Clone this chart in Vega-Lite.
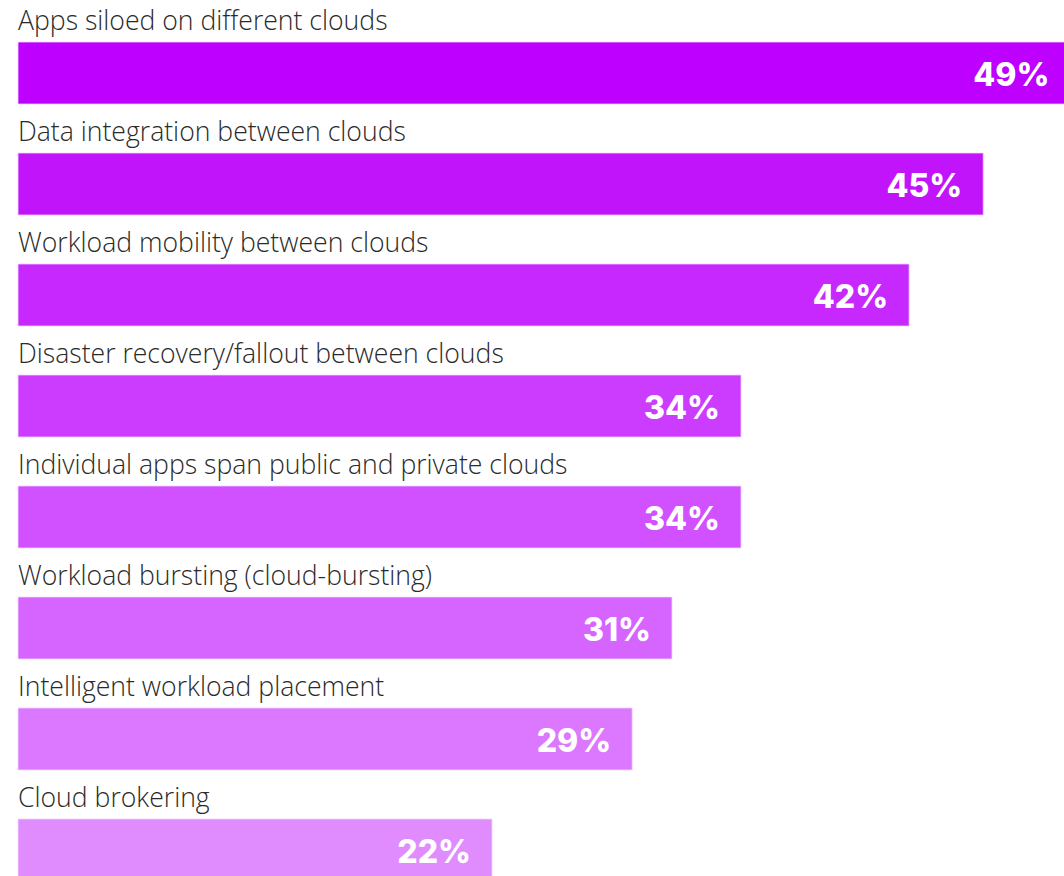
{
  "$schema": "https://vega.github.io/schema/vega-lite/v6.json",
  "autosize": "none",
  "width": 1046,
  "height": 876,
  "padding": {"left": 18, "top": 0, "right": 0, "bottom": 0},
  "background": "white",
  "config": {"view": {"stroke": null}},
  "data": {
    "values": [
      {"category": "Apps siloed on different clouds", "value": 0.494},
      {"category": "Data integration between clouds", "value": 0.4531},
      {"category": "Workload mobility between clouds", "value": 0.4183},
      {"category": "Disaster recovery/fallout between clouds", "value": 0.3394},
      {"category": "Individual apps span public and private clouds", "value": 0.3394},
      {"category": "Workload bursting (cloud-bursting)", "value": 0.307},
      {"category": "Intelligent workload placement", "value": 0.2883},
      {"category": "Cloud brokering", "value": 0.2225}
    ]
  },
  "encoding": {
    "y": {
      "field": "category",
      "type": "nominal",
      "sort": null,
      "axis": null,
      "scale": {"range": [42, 881], "paddingInner": 0.441, "paddingOuter": 0}
    }
  },
  "layer": [
    {
      "mark": {"type": "bar", "stroke": "#f4d8ff", "strokeWidth": 0.8, "clip": false},
      "encoding": {
        "x": {"field": "value", "type": "quantitative", "axis": null, "scale": {"domain": [0, 0.491], "nice": false, "zero": true}},
        "color": {
          "field": "category",
          "type": "nominal",
          "sort": null,
          "legend": null,
          "scale": {
            "domain": [
              "Apps siloed on different clouds",
              "Data integration between clouds",
              "Workload mobility between clouds",
              "Disaster recovery/fallout between clouds",
              "Individual apps span public and private clouds",
              "Workload bursting (cloud-bursting)",
              "Intelligent workload placement",
              "Cloud brokering"
            ],
            "range": ["#BD00FF", "#C214FB", "#C628FD", "#CC3CFF", "#D150FF", "#D664FF", "#DB78FF", "#E08CFF"]
          }
        }
      }
    },
    {
      "mark": {"type": "text", "align": "right", "baseline": "alphabetic", "dx": -21, "dy": 13, "font": "Inter", "fontWeight": 800, "fontSize": 32, "color": "white"},
      "encoding": {
        "x": {"field": "value", "type": "quantitative"},
        "text": {"field": "value", "type": "quantitative", "format": ".0%"}
      }
    },
    {
      "mark": {"type": "text", "align": "left", "baseline": "alphabetic", "dy": -12, "font": "Open Sans", "fontWeight": 300, "fontSize": 26.6, "color": "#2a2a2a"},
      "encoding": {
        "x": {"datum": 0, "type": "quantitative"},
        "y": {"field": "category", "type": "nominal", "sort": null, "bandPosition": 0},
        "text": {"field": "category"}
      }
    }
  ]
}
